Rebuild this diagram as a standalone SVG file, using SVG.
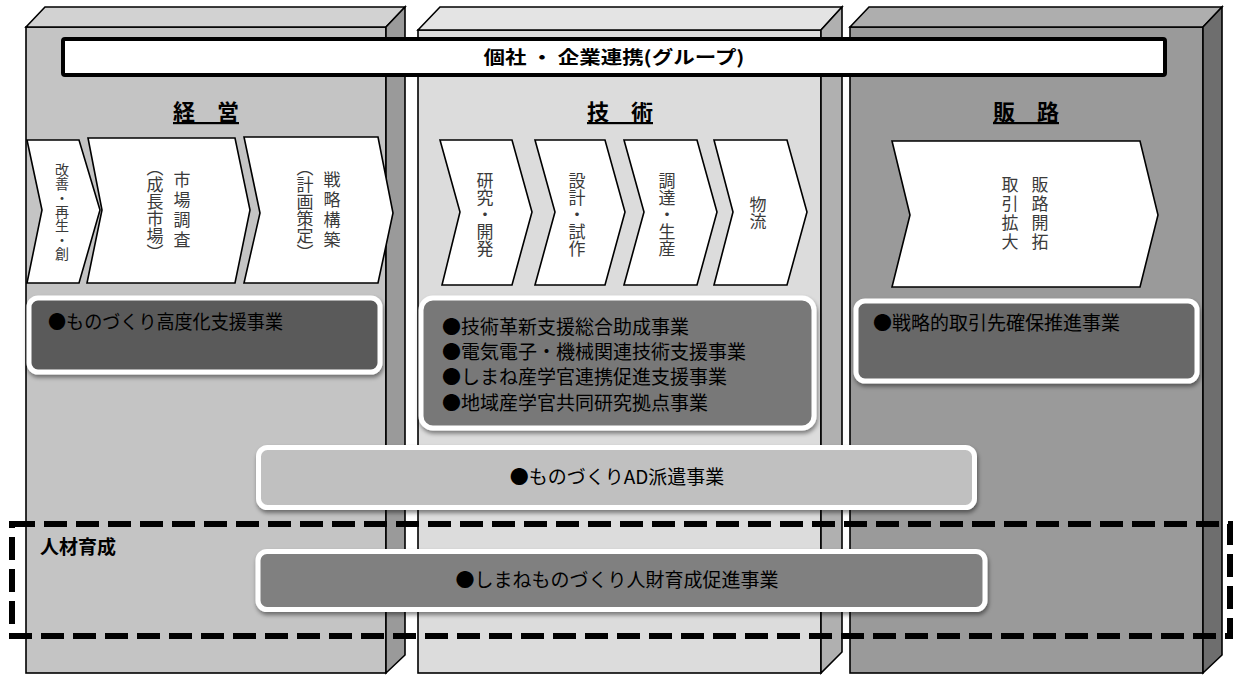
<svg xmlns="http://www.w3.org/2000/svg" width="1233" height="675" viewBox="0 0 1233 675">
<style>
.edge{stroke:#000;stroke-width:1.6;stroke-linejoin:miter}
.chev{fill:#fff;stroke:#000;stroke-width:1.6;stroke-linejoin:miter}
.vt{font-family:"Noto Sans CJK JP","Noto Sans CJK SC",sans-serif;font-size:17px;fill:#3a3a3a;writing-mode:vertical-rl;text-anchor:middle}
.box{stroke:#fff;stroke-width:5;filter:url(#sh)}
.bt{font-family:"Noto Sans CJK JP","Noto Sans CJK SC",sans-serif;font-size:19px;fill:#000}
.hd{font-family:"Noto Sans CJK JP","Noto Sans CJK SC",sans-serif;font-size:22px;font-weight:bold;fill:#000;text-anchor:middle;text-decoration:underline}
</style>
<defs>
<filter id="sh" x="-5%" y="-20%" width="110%" height="150%">
<feDropShadow dx="1" dy="3" stdDeviation="2" flood-color="#000" flood-opacity="0.45"/>
</filter>
</defs>

<g id="col-keiei">
<rect class="edge" x="26" y="27" width="360" height="646" fill="#c4c4c4"/>
<polygon class="edge" points="26,27 45,7 405,7 386,27" fill="#d2d2d2"/>
<polygon class="edge" points="386,27 405,7 405,655 386,673" fill="#9a9a9a"/>
</g>
<g id="col-gijutsu">
<rect class="edge" x="418" y="30" width="403" height="643" fill="#dcdcdc"/>
<polygon class="edge" points="418,30 440,7 842,7 821,30" fill="#e4e4e4"/>
<polygon class="edge" points="821,30 842,7 842,652 821,673" fill="#b0b0b0"/>
</g>
<g id="col-hanro">
<rect class="edge" x="850" y="27" width="353" height="646" fill="#9a9a9a"/>
<polygon class="edge" points="850,27 869,7 1222,7 1203,27" fill="#aeaeae"/>
<polygon class="edge" points="1203,27 1222,7 1222,655 1203,673" fill="#6e6e6e"/>
</g>

<g id="banner">
<rect x="63" y="39" width="1102" height="36" rx="2" fill="#fff" stroke="#000" stroke-width="4"/>
<text x="614" y="64" font-family="Noto Sans CJK JP, Noto Sans CJK SC, sans-serif" font-size="18" font-weight="bold" text-anchor="middle" textLength="261" lengthAdjust="spacingAndGlyphs">個社 ・ 企業連携(グループ)</text>
</g>

<g id="headers">
<text class="hd" x="206" y="120">経　営</text>
<text class="hd" x="620" y="120">技　術</text>
<text class="hd" x="1026" y="120">販　路</text>
</g>

<g id="chev-kaizen">
<polygon class="chev" points="27,140 79,140 100,210 79,283 27,283 42,210"/>
<text class="vt" x="62" y="212" style="font-size:14px">改善・再生・創</text>
</g>
<g id="chev-shijo">
<polygon class="chev" points="88,138 235,138 250,210 235,283 87,283 102,210"/>
<text class="vt" x="182" y="211" style="letter-spacing:3px">市場調査</text>
<text class="vt" x="155" y="210">（成長市場）</text>
</g>
<g id="chev-senryaku">
<polygon class="chev" points="244,137 378,137 393,213 378,283 244,283 260,213"/>
<text class="vt" x="332" y="211" style="letter-spacing:3px">戦略構築</text>
<text class="vt" x="305" y="210">（計画策定）</text>
</g>

<g id="chev-kenkyu">
<polygon class="chev" points="440,140 512,140 532,212 512,285 442,285 460,212"/>
<text class="vt" x="485" y="215">研究・開発</text>
</g>
<g id="chev-sekkei">
<polygon class="chev" points="535,140 605,140 625,212 605,285 535,285 555,212"/>
<text class="vt" x="577" y="215">設計・試作</text>
</g>
<g id="chev-chotatsu">
<polygon class="chev" points="624,140 697,140 717,212 697,285 624,285 644,212"/>
<text class="vt" x="667" y="215">調達・生産</text>
</g>
<g id="chev-butsuryu">
<polygon class="chev" points="714,140 787,140 807,212 787,285 714,285 733,212"/>
<text class="vt" x="758" y="213">物流</text>
</g>

<g id="chev-hanro">
<polygon class="chev" points="892,141 1140,141 1158,215 1140,287 892,287 910,215"/>
<text class="vt" x="1040" y="214" style="letter-spacing:2px">販路開拓</text>
<text class="vt" x="1010" y="214" style="letter-spacing:2px">取引拡大</text>
</g>

<g id="box-monozukuri">
<rect class="box" x="29" y="298" width="351" height="74" rx="9" fill="#5a5a5a"/>
<text class="bt" x="48" y="329" textLength="235" lengthAdjust="spacingAndGlyphs">●ものづくり高度化支援事業</text>
</g>
<g id="box-gijutsu">
<rect class="box" x="421" y="298" width="393" height="130" rx="12" fill="#787878"/>
<text class="bt" x="442" y="334">●技術革新支援総合助成事業</text>
<text class="bt" x="442" y="359">●電気電子・機械関連技術支援事業</text>
<text class="bt" x="442" y="384">●しまね産学官連携促進支援事業</text>
<text class="bt" x="442" y="410">●地域産学官共同研究拠点事業</text>
</g>
<g id="box-senryaku">
<rect class="box" x="856" y="301" width="341" height="80" rx="9" fill="#686868"/>
<text class="bt" x="873" y="330">●戦略的取引先確保推進事業</text>
</g>
<g id="box-ad">
<rect class="box" x="258.5" y="447.5" width="716" height="60" rx="9" fill="#c0c0c0"/>
<text class="bt" x="617" y="484" text-anchor="middle">●ものづくりAD派遣事業</text>
</g>

<g id="jinzai">
<rect x="12" y="524" width="1218" height="112" fill="none" stroke="#000" stroke-width="6" stroke-dasharray="23 9"/>
<text x="40" y="554" font-family="Noto Sans CJK JP, Noto Sans CJK SC, sans-serif" font-size="19" font-weight="bold">人材育成</text>
</g>
<g id="box-jinzai">
<rect class="box" x="258" y="551.5" width="727" height="58" rx="9" fill="#808080"/>
<text class="bt" x="617" y="587" text-anchor="middle">●しまねものづくり人財育成促進事業</text>
</g>
<g id="connectors"/>
</svg>
